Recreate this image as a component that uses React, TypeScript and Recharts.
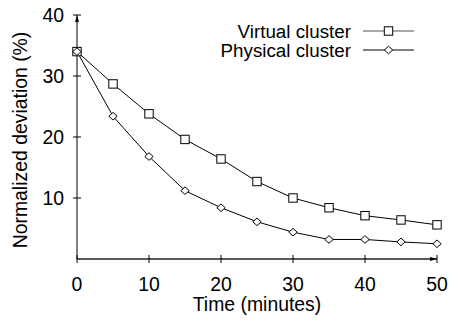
import React from "react";
import { LineChart, Line, XAxis, YAxis, Legend } from "recharts";

const minutes = [0, 5, 10, 15, 20, 25, 30, 35, 40, 45, 50];
const virtualCluster = [34, 28.7, 23.8, 19.6, 16.4, 12.7, 10.0, 8.4, 7.1, 6.4, 5.6];
const physicalCluster = [34, 23.4, 16.8, 11.2, 8.4, 6.1, 4.4, 3.2, 3.2, 2.8, 2.5];
const xTicks = [0, 10, 20, 30, 40, 50];
const yTicks = [10, 20, 30, 40];
const seriesNames = ["Virtual cluster", "Physical cluster"];
const xLabel = "Time (minutes)";
const yLabel = "Normalized deviation (%)";

const data = minutes.map((m, i) => ({
  t: m,
  virtual: virtualCluster[i],
  physical: physicalCluster[i],
}));

const FONT = "'Liberation Sans', Arial, Helvetica, sans-serif";
const FS = 19.4;
const LFS = 18.8;

const Square = (cx: number, cy: number, key?: any) => (
  <rect key={key} x={cx - 4.2} y={cy - 4.2} width={8.4} height={8.4} fill="#fff" stroke="#000" strokeWidth={1} />
);
const Diamond = (cx: number, cy: number, key?: any) => (
  <path key={key} d={`M${cx - 4.2},${cy} L${cx},${cy - 3.8} L${cx + 4.2},${cy} L${cx},${cy + 3.8} Z`} fill="#fff" stroke="#000" strokeWidth={1} />
);

const YTick = (p: any) => {
  const ax = p.x + 13;
  return (
    <g>
      <line x1={ax - 4} x2={ax + 4} y1={p.y} y2={p.y} stroke="#000" />
      <text x={p.x} y={p.y} dy="0.355em" textAnchor="end" fontFamily={FONT} fontSize={FS} fill="#000">
        {p.payload.value}
      </text>
    </g>
  );
};

const XTick = (p: any) => {
  const ay = p.y - 18;
  return (
    <g>
      <line x1={p.x} x2={p.x} y1={ay - 4} y2={ay + 4} stroke="#000" />
      <text x={p.x} y={p.y} dy="0.71em" textAnchor="middle" fontFamily={FONT} fontSize={FS} fill="#000">
        {p.payload.value}
      </text>
    </g>
  );
};

const LegendContent = () => (
  <svg width={452} height={70}>
    {seriesNames.map((name, i) => {
      const y = 31 + i * 19;
      return (
        <g key={name}>
          <text x={351} y={y} dy="0.355em" textAnchor="end" fontFamily={FONT} fontSize={LFS} fill="#000">
            {name}
          </text>
          <line x1={363} x2={414} y1={y} y2={y} stroke={i === 0 ? "#555" : "#000"} strokeWidth={1} />
          {i === 0 ? Square(388.5, y) : Diamond(388.5, y)}
        </g>
      );
    })}
  </svg>
);

export default function App() {
  return (
    <div style={{ position: "absolute", left: 0, top: 0, width: 452, height: 320, background: "#fff" }}>
      <svg width={0} height={0} style={{ position: "absolute" }}>
        <defs>
          <marker
            id="axArrow"
            viewBox="0 0 10 10"
            refX={10}
            refY={5}
            markerWidth={7}
            markerHeight={7}
            markerUnits="userSpaceOnUse"
            orient="auto-start-reverse"
          >
            <path d="M0,2.2 L10,5 L0,7.8 Z" fill="#000" />
          </marker>
        </defs>
      </svg>
      <LineChart width={452} height={320} data={data} margin={{ top: 15, right: 15, bottom: 21, left: 0 }}>
        <XAxis
          dataKey="t"
          type="number"
          domain={[0, 50]}
          ticks={xTicks}
          height={40}
          tickSize={0}
          tickMargin={18}
          tickLine={false}
          tick={<XTick />}
          axisLine={{ stroke: "#222", strokeWidth: 1.4, markerEnd: "url(#axArrow)" }}
          label={() => (
            <text x={257} y={311} textAnchor="middle" fontFamily={FONT} fontSize={FS} fill="#000">
              {xLabel}
            </text>
          )}
        />
        <YAxis
          type="number"
          domain={[0, 40]}
          ticks={yTicks}
          width={77}
          tickSize={0}
          tickMargin={13}
          tickLine={false}
          tick={<YTick />}
          axisLine={{ stroke: "#000", strokeWidth: 1, markerStart: "url(#axArrow)" }}
          label={() => (
            <text transform="translate(27,140) rotate(-90)" textAnchor="middle" fontFamily={FONT} fontSize={FS} fill="#000">
              {yLabel}
            </text>
          )}
        />
        <Legend
          layout="horizontal"
          verticalAlign="middle"
          align="center"
          wrapperStyle={{ position: "absolute", left: 0, top: 0, width: 452, height: 70 }}
          content={() => <LegendContent />}
        />
        <Line
          dataKey="virtual"
          name={seriesNames[0]}
          stroke="#000"
          strokeWidth={1}
          isAnimationActive={false}
          dot={(p: any) => Square(p.cx, p.cy, `v${p.index}`)}
        />
        <Line
          dataKey="physical"
          name={seriesNames[1]}
          stroke="#000"
          strokeWidth={1}
          isAnimationActive={false}
          dot={(p: any) => Diamond(p.cx, p.cy, `p${p.index}`)}
        />
      </LineChart>
    </div>
  );
}
